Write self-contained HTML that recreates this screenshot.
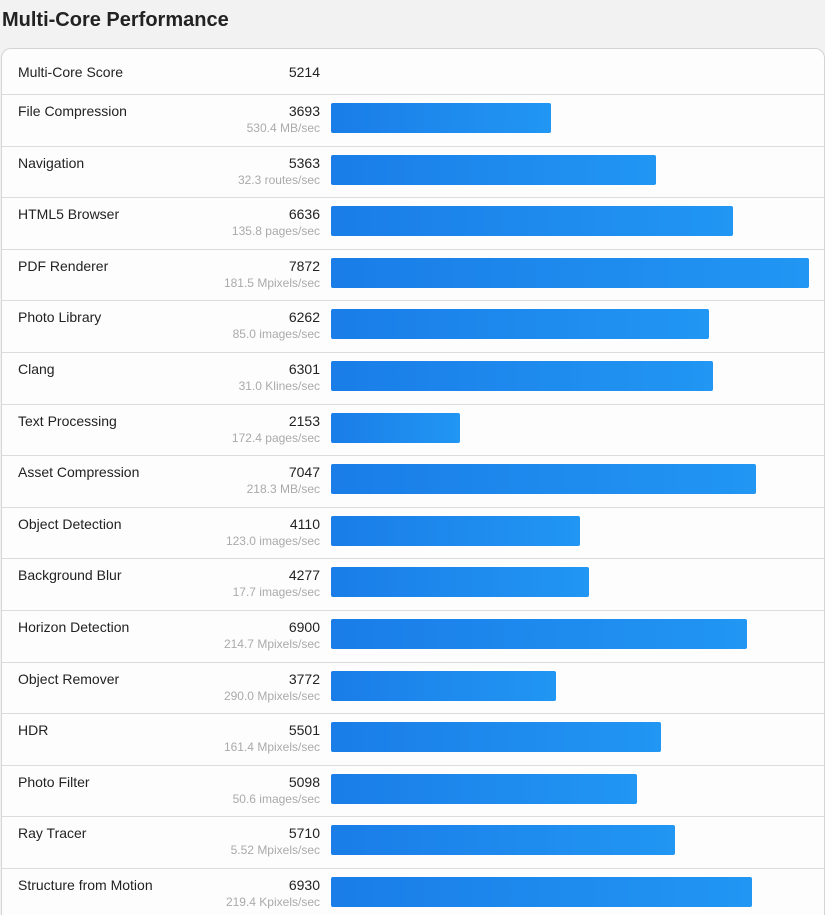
<!DOCTYPE html>
<html><head><meta charset="utf-8"><style>
html,body{margin:0;width:825px;height:915px;overflow:hidden}
body{background:#f2f2f2;font-family:"Liberation Sans",Arial,sans-serif;position:relative}
h1{position:absolute;left:2px;top:9px;margin:0;font-size:20px;font-weight:bold;color:#222}
.card{position:absolute;left:1px;top:48px;width:822px;height:880px;background:#fdfdfd;border:1px solid #d4d4d4;border-radius:10px;overflow:hidden}
.row{position:absolute;left:0;width:822px;border-bottom:1px solid #dcdcdc;box-sizing:border-box}
.n{position:absolute;left:16px;top:8px;font-size:14px;color:#222}
.s{position:absolute;right:504px;top:8px;font-size:14px;color:#222;text-align:right}
.u{position:absolute;right:504px;top:26px;font-size:12px;color:#aaa;text-align:right;white-space:nowrap}
.b{position:absolute;left:329px;top:8px;height:30px;background:linear-gradient(90deg,#1a7de8,#2196f3);border-radius:2px}
</style></head><body>
<h1>Multi-Core Performance</h1>
<div class="card" id="c">
<div class="row" style="top:0;height:46px"><div class="n" style="top:15px">Multi-Core Score</div><div class="s" style="top:15px">5214</div></div>
</div>
<script>
var d=[["File Compression",3693,"530.4 MB/sec",220],["Navigation",5363,"32.3 routes/sec",325],["HTML5 Browser",6636,"135.8 pages/sec",402],["PDF Renderer",7872,"181.5 Mpixels/sec",478],["Photo Library",6262,"85.0 images/sec",378],["Clang",6301,"31.0 Klines/sec",382],["Text Processing",2153,"172.4 pages/sec",129],["Asset Compression",7047,"218.3 MB/sec",425],["Object Detection",4110,"123.0 images/sec",249],["Background Blur",4277,"17.7 images/sec",258],["Horizon Detection",6900,"214.7 Mpixels/sec",416],["Object Remover",3772,"290.0 Mpixels/sec",225],["HDR",5501,"161.4 Mpixels/sec",330],["Photo Filter",5098,"50.6 images/sec",306],["Ray Tracer",5710,"5.52 Mpixels/sec",344],["Structure from Motion",6930,"219.4 Kpixels/sec",421]];
var c=document.getElementById('c'),h='';
d.forEach(function(r,i){var t=46+i*51.6;h+='<div class="row" style="top:'+t+'px;height:51.6px"><div class="n">'+r[0]+'</div><div class="s">'+r[1]+'</div><div class="u">'+r[2]+'</div><div class="b" style="width:'+r[3]+'px"></div></div>';});
c.innerHTML+=h;
</script>
</body></html>
